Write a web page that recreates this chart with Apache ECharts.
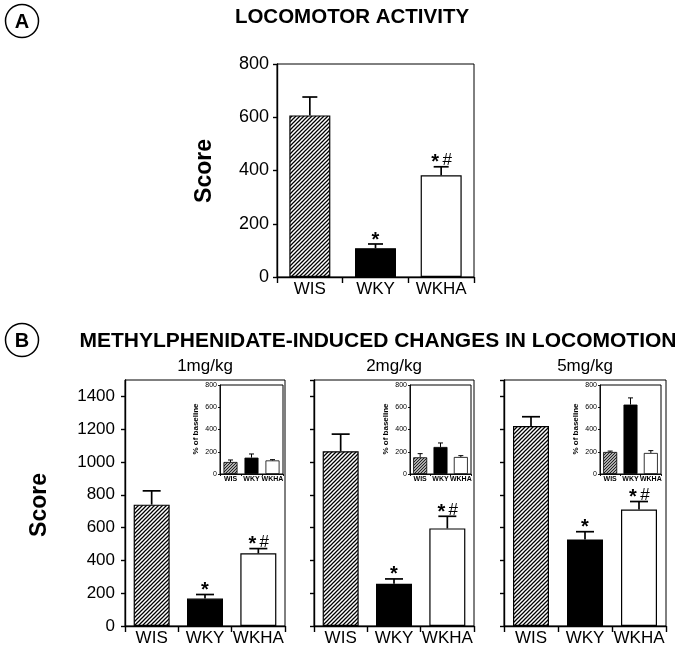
<!DOCTYPE html>
<html><head><meta charset="utf-8">
<script src="https://cdn.jsdelivr.net/npm/echarts@6/dist/echarts.min.js"></script>
<style>html,body{margin:0;padding:0;background:#fff}#c{width:683px;height:646px}</style>
</head><body><div id="c"></div>
<script>
// ---- data ----
const categories = ['WIS', 'WKY', 'WKHA'];
const panelA_mean = [607, 108, 382];
const panelA_sem = [69, 16, 32];
const dose1_mean = [740, 167, 443];
const dose1_sem = [84, 25, 29];
const dose2_mean = [1066, 258, 595];
const dose2_sem = [104, 29, 74];
const dose5_mean = [1219, 528, 710];
const dose5_sem = [57, 47, 49];
const inset1_mean = [108, 147, 122];
const inset1_sem = [18, 33, 7];
const inset2_mean = [150, 243, 153];
const inset2_sem = [33, 36, 12];
const inset5_mean = [198, 624, 189];
const inset5_sem = [8, 60, 21];
const signif = ['', '*', '*#'];
const doseLabels = ['1mg/kg', '2mg/kg', '5mg/kg'];
const titleA = 'LOCOMOTOR ACTIVITY';
const titleB = 'METHYLPHENIDATE-INDUCED CHANGES IN LOCOMOTION';
const yNameMain = 'Score';
const yNameInset = '% of baseline';

const FF = '"Liberation Sans", Arial, Helvetica, sans-serif';

function hatch(size, lw, bg) {
  const c = document.createElement('canvas');
  c.width = size; c.height = size;
  const g = c.getContext('2d');
  g.fillStyle = bg; g.fillRect(0, 0, size, size);
  g.strokeStyle = '#000'; g.lineWidth = lw;
  g.beginPath();
  g.moveTo(0, size); g.lineTo(size, 0);
  g.moveTo(-1, 1); g.lineTo(1, -1);
  g.moveTo(size - 1, size + 1); g.lineTo(size + 1, size - 1);
  g.stroke();
  return c;
}
const hatchMain = hatch(4, 1.25, '#fff');
const hatchInset = hatch(3, 0.8, '#aaa');

// panel layout (styles / positions only)
const panels = [
  {mean: panelA_mean, sem: panelA_sem, grid: {left: 277, top: 64, width: 197, height: 213}, max: 800,
   ylabels: true, ySize: 18, yMargin: 8, xSize: 17, xMargin: 4, bw: 41, cap: 15, lw: 1.4, elw: 1.7, marks: true, inset: false},
  {mean: dose1_mean, sem: dose1_sem, grid: {left: 125, top: 380, width: 160, height: 246}, max: 1500,
   ylabels: true, ySize: 17, yMargin: 10, xSize: 17, xMargin: 4, bw: 36, cap: 18, lw: 1.4, elw: 1.7, marks: true, inset: false},
  {mean: dose2_mean, sem: dose2_sem, grid: {left: 314, top: 380, width: 160, height: 246}, max: 1500,
   ylabels: false, ySize: 17, yMargin: 10, xSize: 17, xMargin: 4, bw: 36, cap: 18, lw: 1.4, elw: 1.7, marks: true, inset: false},
  {mean: dose5_mean, sem: dose5_sem, grid: {left: 504, top: 380, width: 162, height: 246}, max: 1500,
   ylabels: false, ySize: 17, yMargin: 10, xSize: 17, xMargin: 4, bw: 36, cap: 18, lw: 1.4, elw: 1.7, marks: true, inset: false},
  {mean: inset1_mean, sem: inset1_sem, grid: {left: 220, top: 385, width: 63, height: 89}, max: 800,
   ylabels: true, ySize: 7, yMargin: 3, xSize: 7, xMargin: 2, bw: 14, cap: 5, lw: 0.9, elw: 1, marks: false, inset: true},
  {mean: inset2_mean, sem: inset2_sem, grid: {left: 410, top: 385, width: 61, height: 89}, max: 800,
   ylabels: true, ySize: 7, yMargin: 3, xSize: 7, xMargin: 2, bw: 14, cap: 5, lw: 0.9, elw: 1, marks: false, inset: true},
  {mean: inset5_mean, sem: inset5_sem, grid: {left: 600, top: 385, width: 61, height: 89}, max: 800,
   ylabels: true, ySize: 7, yMargin: 3, xSize: 7, xMargin: 2, bw: 14, cap: 5, lw: 0.9, elw: 1, marks: false, inset: true}
];

const grids = [], xAxes = [], yAxes = [], series = [];
panels.forEach((p, k) => {
  grids.push(Object.assign({show: true, borderColor: '#000', borderWidth: 1,
    backgroundColor: p.inset ? '#fff' : 'transparent', containLabel: false, outerBoundsMode: 'none', z: p.inset ? 5 : 0}, p.grid));
  xAxes.push({gridIndex: k, type: 'category', data: categories, z: p.inset ? 6 : 1,
    axisLine: {lineStyle: {color: '#000', width: p.lw}},
    axisTick: {show: true, length: p.inset ? 2 : 6, lineStyle: {color: '#000', width: p.lw}},
    axisLabel: {interval: 0, hideOverlap: false, fontSize: p.xSize, color: '#000', margin: p.xMargin, fontFamily: FF,
      fontWeight: p.inset ? 'bold' : 'normal'},
    splitLine: {show: false}});
  yAxes.push({gridIndex: k, type: 'value', min: 0, max: p.max, interval: 200, z: p.inset ? 6 : 1,
    axisLine: {show: true, lineStyle: {color: '#000', width: p.lw}},
    axisTick: {show: true, length: p.inset ? 2 : 4, lineStyle: {color: '#000', width: p.lw}},
    axisLabel: {show: p.ylabels, fontSize: p.ySize, color: '#000', margin: p.yMargin, fontFamily: FF,
      showMaxLabel: p.max !== 1500, formatter: function (v) { return String(v); }},
    splitLine: {show: false}});
  const fills = [{image: p.inset ? hatchInset : hatchMain, repeat: 'repeat'}, '#000', '#fff'];
  series.push({type: 'bar', xAxisIndex: k, yAxisIndex: k, barWidth: p.bw, z: p.inset ? 7 : 2,
    data: p.mean.map((v, i) => ({value: v, itemStyle: {color: fills[i], borderColor: '#000', borderWidth: p.inset ? 0.8 : 1.2}})),
    animation: false});
  series.push({type: 'custom', xAxisIndex: k, yAxisIndex: k, z: p.inset ? 8 : 3, animation: false,
    data: p.mean.map((v, i) => [i, v, v + p.sem[i]]),
    renderItem: function (params, api) {
      const i = params.dataIndex;
      const b = api.coord([api.value(0), api.value(1)]);
      const t = api.coord([api.value(0), api.value(2)]);
      const st = {stroke: '#000', lineWidth: p.elw};
      const ch = [
        {type: 'line', shape: {x1: b[0], y1: b[1], x2: t[0], y2: t[1]}, style: st},
        {type: 'line', shape: {x1: t[0] - p.cap / 2, y1: t[1], x2: t[0] + p.cap / 2, y2: t[1]}, style: st}
      ];
      if (p.marks) {
        const m = signif[i];
        const hasHash = m.indexOf('#') >= 0;
        if (m.indexOf('*') >= 0) {
          ch.push({type: 'text', x: t[0] + (hasHash ? -6 : 0), y: t[1] - 4,
            style: {text: '*', font: 'bold 20px ' + FF, fill: '#000', align: 'center', verticalAlign: 'middle',
              textAlign: 'center', textVerticalAlign: 'middle'}});
        }
        if (hasHash) {
          ch.push({type: 'text', x: t[0] + 6, y: t[1] - 6,
            style: {text: '#', font: '17px ' + FF, fill: '#000', align: 'center', verticalAlign: 'middle',
              textAlign: 'center', textVerticalAlign: 'middle'}});
        }
      }
      return {type: 'group', children: ch};
    }});
});

function txt(text, x, y, font, rot) {
  return {type: 'text', x: x, y: y, rotation: rot || 0, z: 100,
    style: {text: text, font: font, fill: '#000', align: 'center', verticalAlign: 'middle',
      textAlign: 'center', textVerticalAlign: 'middle'}};
}
const graphic = [
  {type: 'circle', shape: {cx: 22, cy: 21, r: 16.5}, style: {fill: 'none', stroke: '#000', lineWidth: 1.5}},
  txt('A', 22, 22, 'bold 20px ' + FF),
  {type: 'circle', shape: {cx: 22, cy: 340, r: 16.5}, style: {fill: 'none', stroke: '#000', lineWidth: 1.5}},
  txt('B', 22, 341, 'bold 20px ' + FF),
  txt(titleA, 352, 17, 'bold 20.5px ' + FF),
  txt(titleB, 378, 341, 'bold 21px ' + FF),
  txt(yNameMain, 205, 171, 'bold 23px ' + FF, Math.PI / 2),
  txt(yNameMain, 40, 505, 'bold 23px ' + FF, Math.PI / 2),
  txt(doseLabels[0], 205, 366, '17px ' + FF),
  txt(doseLabels[1], 394, 366, '17px ' + FF),
  txt(doseLabels[2], 585, 366, '17px ' + FF),
  txt(yNameInset, 196, 429, 'bold 8px ' + FF, Math.PI / 2),
  txt(yNameInset, 386, 429, 'bold 8px ' + FF, Math.PI / 2),
  txt(yNameInset, 576, 429, 'bold 8px ' + FF, Math.PI / 2)
];

const chart = echarts.init(document.getElementById('c'), null, {renderer: 'canvas'});
chart.setOption({
  animation: false,
  backgroundColor: '#fff',
  textStyle: {fontFamily: FF},
  grid: grids, xAxis: xAxes, yAxis: yAxes, series: series, graphic: graphic
});
</script></body></html>
